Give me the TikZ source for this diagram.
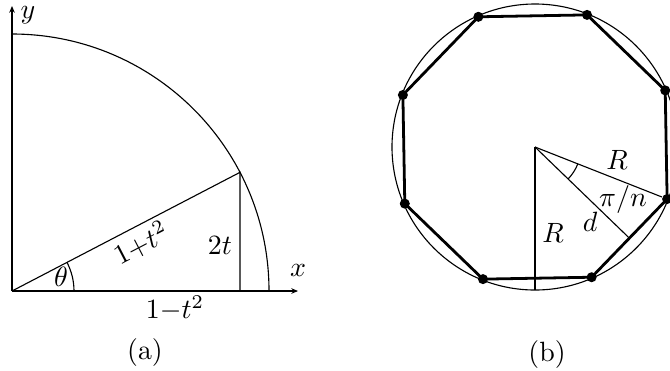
\documentclass[tikz,border=0pt]{standalone}
\usepackage{amsmath, amssymb}
\usetikzlibrary{positioning, arrows.meta, calc}

\begin{document}
\begin{tikzpicture}[x=0.0126cm, y=0.0126cm,
        every node/.style={inner sep=1pt},
        ax/.style={-{Stealth[length=2.4pt, width=2pt]}, line width=0.4pt},
        thinln/.style={line width=0.4pt},
        poly/.style={line width=1pt, line join=round},
        vdot/.style={circle, fill=black, inner sep=0pt, minimum size=3.6pt}]
      \useasboundingbox (0,0) rectangle (670,370);
      % (a)
      \coordinate (O) at (12,79);
      \coordinate (yend) at (12,364);
      \coordinate (xend) at (298,79);
      \coordinate (P) at ($(O)+(27.5:257)$);
      \coordinate (F) at (O -| P);
      \draw[ax] (O) -- (yend);
      \draw[ax] (O) -- (xend);
      \draw[thinln] ($(O)+(257,0)$) arc[start angle=0, end angle=90, radius=257];
      \draw[thinln] (O) -- (P) -- (F);
      \draw[thinln] ($(O)+(62,0)$) arc[start angle=0, end angle=27.5, radius=62];
      \node (ylab) at (28,355) {$y$};
      \node (xlab) at (298,100) {$x$};
      \node (th) at (61,93) {$\theta$};
      \node[rotate=27.5] (hyp) at (141,127) {$1{+}t^2$};
      \node (opp) at (220,125) {$2t$};
      \node (adj) at (175,62) {$1{-}t^2$};
      \node (capa) at (145,17) {(a)};
      % (b)
      \coordinate (C) at (535,223);
      \draw[thinln] (C) circle[radius=143];
      \draw[poly] (C) ++(23.5:142)
        \foreach \k in {1,...,7} { -- ($(C)+(23.5-45*\k:142)$) } -- cycle;
      \foreach \k in {0,...,7}
        \node[vdot] (v\k) at ($(C)+(23.5-45*\k:142)$) {};
      \coordinate (B) at ($(C)+(0,-143)$);
      \coordinate (M) at ($(C)+(-44:131)$);
      \draw[thinln] (C) -- (B);
      \draw[thinln] (C) -- (v1);
      \draw[thinln] (C) -- (M);
      \draw[thinln] ($(C)+(-44:46)$) arc[start angle=-44, end angle=-21.5, radius=46];
      \node (rv) at (553,137) {$R$};
      \node (rs) at (617,210) {$R$};
      \node (ang) at (623,170) {$\pi/n$};
      \node (dlab) at (590,148) {$d$};
      \node (capb) at (547,15) {(b)};
    \end{tikzpicture}
\end{document}
